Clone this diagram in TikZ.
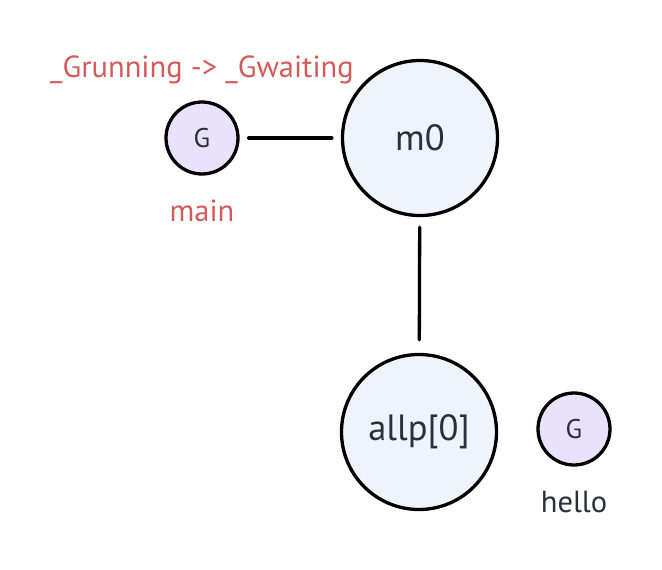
\documentclass[tikz,border=0pt]{standalone}
\usepackage{fontspec}
\setmainfont{PT Sans}
\definecolor{redtxt}{HTML}{D35B5B}
\definecolor{darktxt}{HTML}{2A2F3A}
\definecolor{gfill}{HTML}{E9E2FD}
\definecolor{bigfill}{HTML}{EEF3FC}
\tikzset{
  gnode/.style={circle, draw=black, line width=3.3pt, fill=gfill, minimum size=72pt, inner sep=0pt, text=darktxt, font=\fontsize{27}{30}\selectfont},
  bignode/.style={circle, draw=black, line width=3.3pt, fill=bigfill, minimum size=155pt, inner sep=0pt, text=darktxt, font=\fontsize{36.5}{40}\selectfont},
  lbl/.style={font=\fontsize{30.5}{34}\selectfont, inner sep=0pt},
  conn/.style={line width=3.3pt, line cap=round}
}
\begin{document}
\begin{tikzpicture}[x=1pt,y=-1pt]
\useasboundingbox (0,0) rectangle (662,570);
\node[gnode] (g1) at (202,138) {G};
\node[bignode] (m0) at (420,138) {m0};
\node[bignode] (allp) at (419,432) {allp[0]};
\node[gnode] (g2) at (574,429) {G};
\node[lbl, text=redtxt] (state) at (202,70) {\_Grunning -> \_Gwaiting};
\node[lbl, text=redtxt] (main) at (202,211) {main};
\node[lbl, text=darktxt] (hello) at (574,502) {hello};
\draw[conn, shorten <=9pt, shorten >=9pt] (g1) -- (m0);
\draw[conn, shorten <=10pt, shorten >=13pt] (m0) -- (allp);
\end{tikzpicture}
\end{document}
